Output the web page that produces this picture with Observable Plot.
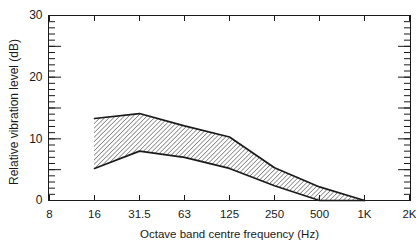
<!DOCTYPE html>
<html><head><meta charset="utf-8">
<script src="https://cdn.jsdelivr.net/npm/d3@7"></script>
<script src="https://cdn.jsdelivr.net/npm/@observablehq/plot@0.6"></script>
<style>body{margin:0;background:#fff;} svg{display:block;font-family:"Liberation Sans",Arial,sans-serif;}</style>
</head><body><div id="chart"></div>
<script>
const bands = ["8","16","31.5","63","125","250","500","1K","2K"];
const freq = ["16","31.5","63","125","250","500","1K"];
const upper = [13.3,14.1,12.1,10.3,5.3,2.2,0];
const lower = [5.2,8.0,7.0,5.2,2.4,0,0];
const yMajor = [0,10,20,30];
const yHalf = [5,15,25];
const yMinor = d3.range(0,31,1);
const xTitle = "Octave band centre frequency (Hz)";
const yTitle = "Relative vibration level (dB)";

const data = freq.map((f,i)=>({f, up: upper[i], lo: lower[i]}));
const ink = "#1a1a1a";

const chart = Plot.plot({
  width: 416, height: 242,
  marginLeft: 48, marginRight: 6, marginTop: 15, marginBottom: 42,
  style: {fontSize: "11px", color: ink, background: "#fff"},
  x: {type: "point", domain: bands, padding: 0},
  y: {domain: [0,30]},
  marks: [
    Plot.areaY(data, {x: "f", y1: "lo", y2: "up", fill: "url(#hatch)"}),
    Plot.frame({stroke: ink, strokeWidth: 1}),
    Plot.axisY(yMinor, {anchor: "left", tickSize: -7, text: null, label: null, stroke: ink}),
    Plot.axisY(yMajor.concat(yHalf), {anchor: "left", tickSize: -13, text: null, label: null, stroke: ink}),
    Plot.axisY(yMajor, {anchor: "left", tickSize: 0, tickPadding: 6, label: null, fontSize: 12}),
    Plot.axisY(yMinor, {anchor: "right", tickSize: -7, text: null, label: null, stroke: ink}),
    Plot.axisY(yMajor.concat(yHalf), {anchor: "right", tickSize: -13, text: null, label: null, stroke: ink}),
    Plot.axisX(bands, {anchor: "top", tickSize: -5, text: null, label: null, stroke: ink}),
    Plot.axisX(bands, {anchor: "bottom", tickSize: -5, text: null, label: null, stroke: ink}),
    Plot.axisX(bands, {anchor: "bottom", tickSize: 0, tickPadding: 9, label: null, fontSize: 11.5}),
    Plot.line(data, {x: "f", y: "up", stroke: ink, strokeWidth: 1.7}),
    Plot.line(data, {x: "f", y: "lo", stroke: ink, strokeWidth: 1.7}),
    Plot.text([yTitle], {frameAnchor: "left", textAnchor: "middle", rotate: -90, dx: -34, dy: 4, fontSize: 12, fill: ink}),
    Plot.text([xTitle], {frameAnchor: "bottom", textAnchor: "middle", dy: 37, fontSize: 11.5, fill: ink})
  ]
});

const ns = "http://www.w3.org/2000/svg";
const defs = document.createElementNS(ns, "defs");
const pat = document.createElementNS(ns, "pattern");
pat.setAttribute("id", "hatch");
pat.setAttribute("patternUnits", "userSpaceOnUse");
pat.setAttribute("width", "3.2");
pat.setAttribute("height", "3.2");
pat.setAttribute("patternTransform", "rotate(45)");
const ln = document.createElementNS(ns, "line");
ln.setAttribute("x1", "0"); ln.setAttribute("y1", "0");
ln.setAttribute("x2", "0"); ln.setAttribute("y2", "3.2");
ln.setAttribute("stroke", "#222");
ln.setAttribute("stroke-width", "0.9");
pat.appendChild(ln);
defs.appendChild(pat);
chart.insertBefore(defs, chart.firstChild);
document.getElementById("chart").appendChild(chart);
</script>
</body></html>
